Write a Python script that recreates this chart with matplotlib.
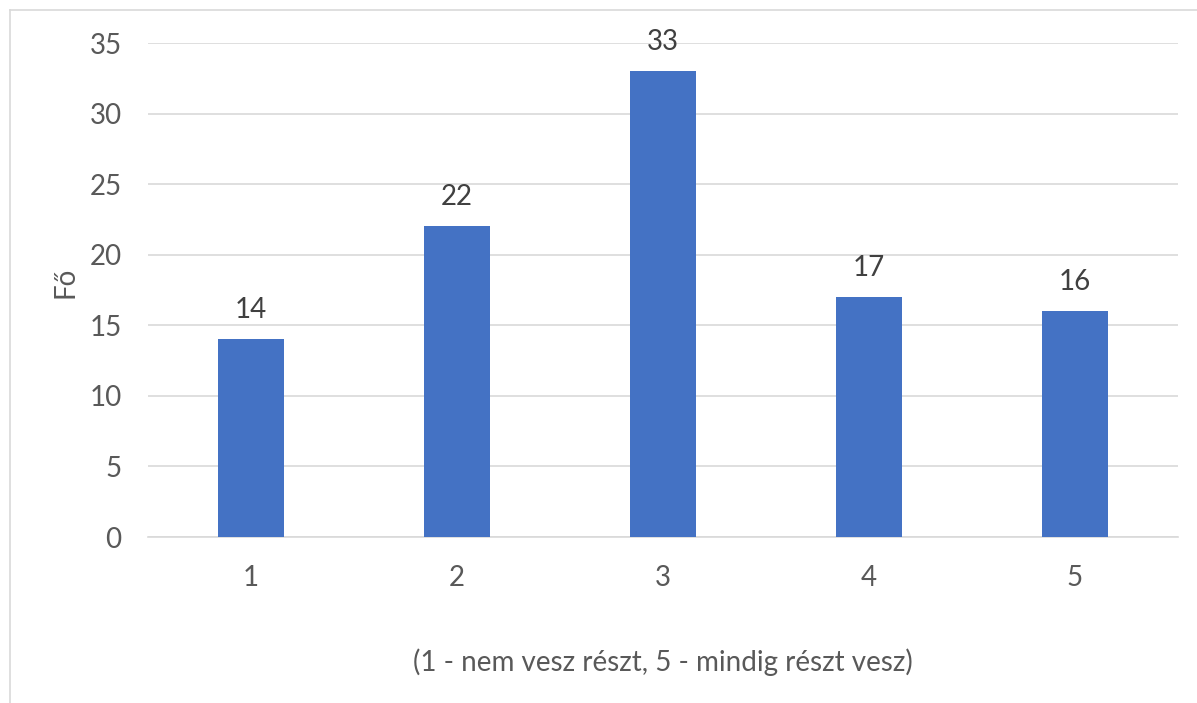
import matplotlib
matplotlib.use("Agg")
import matplotlib.pyplot as plt
from matplotlib.lines import Line2D

categories = ["1", "2", "3", "4", "5"]
values = [14, 22, 33, 17, 16]
yticks = [0, 5, 10, 15, 20, 25, 30, 35]
xlabel = "(1 - nem vesz részt, 5 - mindig részt vesz)"
ylabel = "Fő"

plt.rcParams['font.family'] = ['Lato', 'DejaVu Sans']
txt = '#595959'
fs = 20

W, H = 1197, 703
fig = plt.figure(figsize=(W/100, H/100), dpi=100)
ax = fig.add_axes([148/W, 1-537/H, (1178-148)/W, (537-43)/H])

x = range(len(categories))
ax.bar(x, values, width=0.316, color='#4472c4', zorder=3)
for xi, v in zip(x, values):
    ax.annotate(str(v), (xi, v), xytext=(0, 29), textcoords='offset pixels',
                ha='center', va='center', fontsize=fs, color='#404040')

ax.set_xlim(-0.5, len(categories)-0.5)
ax.set_ylim(0, 35)
ax.set_yticks(yticks)
ax.set_xticks(list(x))
ax.set_xticklabels(categories)
ax.grid(axis='y', color='#d9d9d9', linewidth=1.2, zorder=0)
ax.set_axisbelow(True)
for s in ['top', 'right', 'left']:
    ax.spines[s].set_visible(False)
ax.spines['bottom'].set_color('#d9d9d9')
ax.spines['bottom'].set_linewidth(1.2)
ax.tick_params(axis='both', length=0, labelsize=fs, labelcolor=txt)
ax.tick_params(axis='y', pad=19)
ax.tick_params(axis='x', pad=20)

fig.text(663/W, 1-662/H, xlabel, ha='center', va='center', fontsize=fs, color=txt)
fig.text(66/W, 1-282/H, ylabel, ha='center', va='center', fontsize=fs, color=txt, rotation=90)

fig.add_artist(Line2D([9.5/W, 9.5/W], [0, 1-10/H], color='#d9d9d9', linewidth=1.2, transform=fig.transFigure))
fig.add_artist(Line2D([9.5/W, 1], [1-10/H, 1-10/H], color='#d9d9d9', linewidth=1.2, transform=fig.transFigure))

fig.savefig('out.png', dpi=100)
